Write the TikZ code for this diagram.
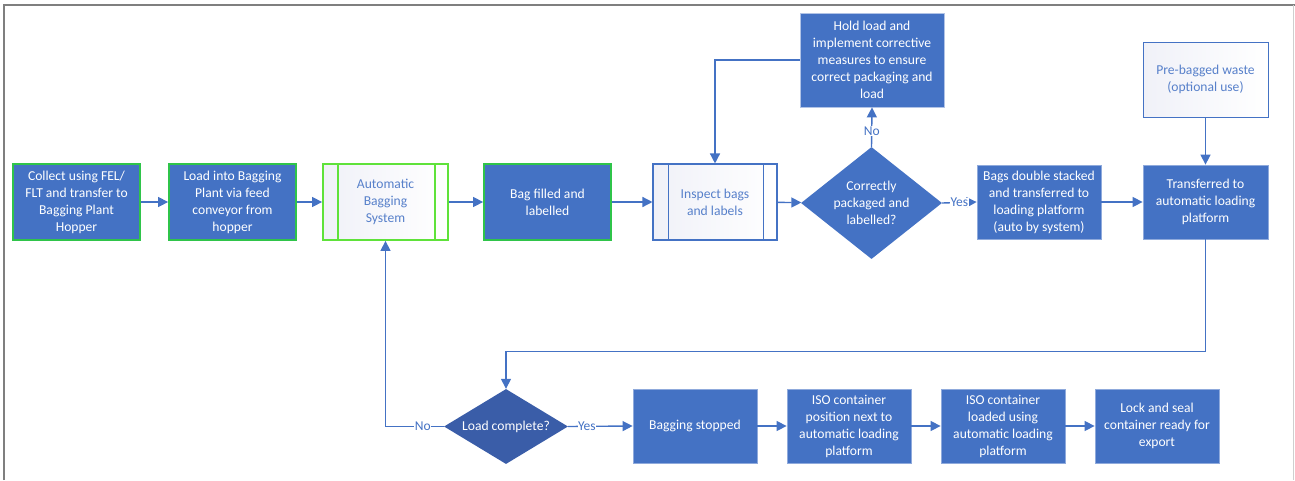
\documentclass[tikz,border=0pt]{standalone}
\usepackage{fontspec}
\setmainfont{Carlito}
\usetikzlibrary{arrows.meta,shapes.geometric}

\definecolor{boxblue}{HTML}{4472C4}
\definecolor{darkblue}{HTML}{3A5DA8}
\definecolor{edgeblue}{HTML}{8FAADC}
\definecolor{linkblue}{HTML}{4472C4}
\definecolor{greenedge}{HTML}{2FC44A}
\definecolor{limeedge}{HTML}{5FE23A}
\definecolor{paleleft}{HTML}{F0F1F8}
\definecolor{framegray}{HTML}{7F7F7F}
\definecolor{lightframe}{HTML}{CFCFCF}

\tikzset{
  txt/.style={font=\fontsize{13.6}{17}\selectfont, align=center, inner sep=1pt},
  bluebox/.style={txt, rectangle, fill=boxblue, draw=edgeblue, line width=0.8pt, text=white},
  greenbox/.style={bluebox, draw=greenedge, line width=1.8pt},
  procbox/.style={txt, rectangle, left color=paleleft, right color=white, text=boxblue!90!white, line width=1.1pt},
  decision/.style={diamond, inner sep=0pt, fill=boxblue, draw=none},
  link/.style={draw=linkblue, line width=1.4pt, -{Triangle[length=10pt,width=10pt]}},
  lbl/.style={font=\fontsize{13.5}{14}\selectfont, text=boxblue, fill=white, inner sep=0.5pt}
}

\begin{document}
\begin{tikzpicture}[x=1pt, y=-1pt]
  \useasboundingbox (0,0) rectangle (1295,480);

  % page frame
  \draw[framegray, line width=2pt] (4,480) -- (4,5) -- (1295,5);
  \draw[lightframe, line width=0.8pt] (1293,5) -- (1293,480);

  % top row
  \node[greenbox, minimum width=127pt, minimum height=76pt] (collect) at (76.5,202)
    {Collect using FEL/\\FLT and transfer to\\Bagging Plant\\Hopper};
  \node[greenbox, minimum width=127pt, minimum height=76pt] (loadplant) at (232.5,202)
    {Load into Bagging\\Plant via feed\\conveyor from\\hopper};
  \node[procbox, draw=limeedge, line width=1.8pt, minimum width=125pt, minimum height=76pt] (autobag) at (385.5,202)
    {Automatic\\Bagging\\System};
  \draw[limeedge, line width=1.8pt] ([xshift=16pt]autobag.north west) -- ([xshift=16pt]autobag.south west);
  \draw[limeedge, line width=1.8pt] ([xshift=-14pt]autobag.north east) -- ([xshift=-14pt]autobag.south east);
  \node[greenbox, minimum width=127pt, minimum height=76pt] (filled) at (547.5,202)
    {Bag filled and\\labelled};
  \node[procbox, draw=boxblue, minimum width=124pt, minimum height=76pt] (inspect) at (715,202)
    {Inspect bags\\and labels};
  \draw[boxblue, line width=1.1pt] ([xshift=16pt]inspect.north west) -- ([xshift=16pt]inspect.south west);
  \draw[boxblue, line width=1.1pt] ([xshift=-14pt]inspect.north east) -- ([xshift=-14pt]inspect.south east);

  \node[decision, minimum width=141pt, minimum height=112pt] (correct) at (871.5,203) {};
  \node[txt, text=white] (correcttext) at (correct.center) {Correctly\\packaged and\\labelled?};

  \node[bluebox, draw=edgeblue!70!white, minimum width=144pt, minimum height=94pt] (hold) at (872,60)
    {Hold load and\\implement corrective\\measures to ensure\\correct packaging and\\load};
  \node[bluebox, minimum width=124pt, minimum height=74pt] (stacked) at (1039,202)
    {Bags double stacked\\and transferred to\\loading platform\\(auto by system)};
  \node[procbox, draw=boxblue, line width=0.9pt, minimum width=125pt, minimum height=75pt] (prebagged) at (1205.5,79.5)
    {Pre-bagged waste\\(optional use)};
  \node[bluebox, minimum width=125pt, minimum height=74pt] (transfer) at (1205.5,202)
    {Transferred to\\automatic loading\\platform};

  % bottom row
  \node[decision, fill=darkblue, minimum width=124pt, minimum height=75pt] (complete) at (506,426.5) {};
  \node[txt, text=white] (completetext) at (complete.center) {Load complete?};
  \node[bluebox, minimum width=124pt, minimum height=74pt] (stopped) at (695,426)
    {Bagging stopped};
  \node[bluebox, minimum width=124pt, minimum height=74pt] (position) at (849,426)
    {ISO container\\position next to\\automatic loading\\platform};
  \node[bluebox, minimum width=124pt, minimum height=74pt] (loaded) at (1003,426)
    {ISO container\\loaded using\\automatic loading\\platform};
  \node[bluebox, minimum width=124pt, minimum height=74pt] (seal) at (1157,426)
    {Lock and seal\\container ready for\\export};

  % connectors
  \draw[link] (collect) -- (loadplant);
  \draw[link] (loadplant) -- (autobag);
  \draw[link] (autobag) -- (filled);
  \draw[link] (filled) -- (inspect);
  \draw[link] (inspect) -- (correct);
  \draw[link] (correct.east) -- node[lbl] {Yes} (stacked.west);
  \draw[link] (correct.north) -- node[lbl, pos=0.4] {No} (hold.south);
  \draw[link] (hold.west) -| (inspect.north);
  \draw[link] (prebagged) -- (transfer);
  \draw[link] (stacked) -- (transfer);
  \draw[link] (transfer.south) -- ++(0,112) -| (complete.north);
  \draw[link] (complete.west) -| node[lbl, pos=0.18] {No} (autobag.south);
  \draw[link] (complete.east) -- node[lbl, pos=0.29] {Yes} (stopped.west);
  \draw[link] (stopped) -- (position);
  \draw[link] (position) -- (loaded);
  \draw[link] (loaded) -- (seal);
\end{tikzpicture}
\end{document}
